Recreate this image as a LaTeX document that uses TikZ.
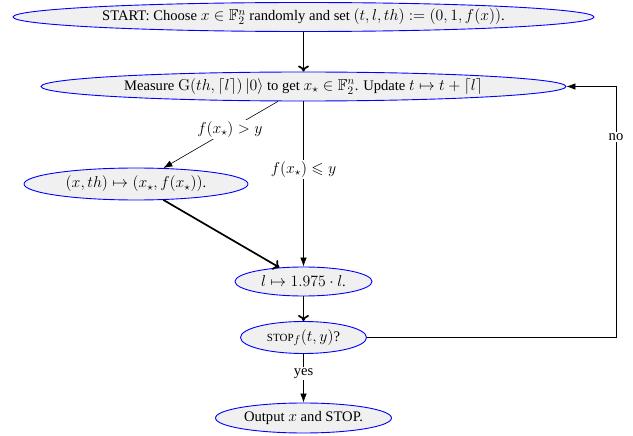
\documentclass[tikz,border=0pt]{standalone}
\usepackage{fix-cm}
\usepackage{amsmath,amssymb}
\usepackage[no-math]{fontspec}
\setmainfont{Liberation Serif}
\usetikzlibrary{arrows.meta,shapes.geometric}

% slightly larger formulas next to the serif text
\DeclareMathSizes{14.6}{15.8}{11.2}{8.5}

\newcommand{\stopname}{{\fontsize{11}{12}\selectfont STOP}}

\tikzset{
  basefont/.style={font=\fontsize{14.6}{17}\selectfont},
  stepnode/.style={ellipse, draw=blue, fill=gray!12, line width=0.9pt,
    inner sep=0pt, basefont},
  flow/.style={-{Latex[length=9pt,width=6.5pt]}, line width=0.6pt},
  mainflow/.style={-{To[length=6pt,width=11pt]}, line width=1.7pt},
  lab/.style={fill=white, inner sep=1.5pt, basefont},
}

\begin{document}
\begin{tikzpicture}[x=1pt,y=-1pt]
  \useasboundingbox (0,0) rectangle (633,436);

  % process steps
  \node[stepnode, minimum width=581pt, minimum height=29pt] (start) at (303.5,17)
    {START: Choose $x\in\mathbb{F}_2^n$ randomly and set $(t,l,th):=(0,1,f(x))$.};
  \node[stepnode, minimum width=525pt, minimum height=29pt] (measure) at (303.5,86.5)
    {Measure $\mathrm{G}(th,\lceil l\rceil)\,|0\rangle$ to get $x_\star\in\mathbb{F}_2^n$. Update $t\mapsto t+\lceil l\rceil$};
  \node[stepnode, minimum width=224pt, minimum height=32pt] (xth) at (136,184)
    {$(x,th)\mapsto(x_\star,f(x_\star))$.};
  \node[stepnode, minimum width=137pt, minimum height=29pt] (lnode) at (303.5,281.5)
    {$l\mapsto 1.975\cdot l$.};
  \node[stepnode, minimum width=126pt, minimum height=32pt] (stop) at (303.5,337.5)
    {\stopname$_f(t,y)$?};
  \node[stepnode, minimum width=176pt, minimum height=30pt] (output) at (303.5,418)
    {Output $x$ and STOP.};

  % corners of the loop back
  \coordinate (c1) at (616,337.5);
  \coordinate (c2) at (616,86.5);

  % connectors
  \draw[mainflow] (start) -- (measure);
  \draw[flow] (measure) -- node[lab, pos=0.42] {$f(x_\star)>y$} (xth);
  \draw[flow] (measure) -- node[lab, pos=0.41] {$f(x_\star)\leqslant y$} (lnode);
  \draw[mainflow] (xth) -- (lnode);
  \draw[mainflow] (lnode) -- (stop);
  \draw[flow] (stop) -- node[lab, pos=0.4] {yes} (output);
  \draw[flow] (stop.east) -- (c1) -- node[lab, pos=0.8] {no} (c2) -- (measure.east);
\end{tikzpicture}
\end{document}
